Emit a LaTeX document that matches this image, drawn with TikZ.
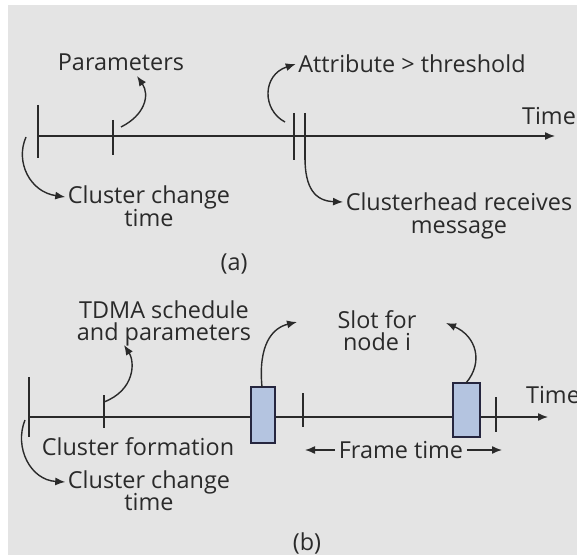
\documentclass[tikz,border=0pt]{standalone}
\usepackage{fontspec}
\setmainfont{Open Sans}
\usetikzlibrary{positioning,arrows.meta}
\definecolor{bggrey}{HTML}{E4E4E4}
\definecolor{slotblue}{HTML}{B4C4E0}
\definecolor{ink}{HTML}{2A2A2A}

\begin{document}
\begin{tikzpicture}
    [x=0.5pt, y=-0.5pt, >={Latex[length=5pt,width=4pt]}, line width=0.7pt,
     every node/.style={font=\fontsize{11.7}{12}\selectfont, inner sep=0pt, text=ink},
     nextline/.style={anchor=base},
     axis/.style={draw=ink, ->},
     tick/.style={draw=ink},
     callout/.style={draw=ink, ->},
     slot/.style={draw=ink!90!blue, fill=slotblue}]
    \useasboundingbox (0,0) rectangle (577,555);
    \fill[white] (0,0) rectangle (577,555);
    \fill[bggrey] (8,5) rectangle (577,555);

    % (a)
    \coordinate (a0) at (38,136);
    \coordinate (aend) at (555,136);
    \draw[axis] (a0) -- (aend);
    \foreach \x/\top/\bot in {38/105/158, 113/120/155, 294/113/160, 305/113/160}
      \draw[tick] (\x,\top) -- (\x,\bot);
    \node (atime) at (549,116) {Time};
    \node (apar) at (121,62) {Parameters};
    \node (aattr) at (412,64) {Attribute > threshold};
    \node (acc) at (149,197) {Cluster change};
    \node (acct) [nextline] at ([yshift=-11.5pt]acc.base) {time};
    \node (ach) at (459,202) {Clusterhead receives};
    \node (achm) [nextline] at ([yshift=-11.5pt]ach.base) {message};
    \node (alab) at (234,264) {(a)};
    \coordinate (ap) at (137,76);
    \draw[callout] (121,127) .. controls (145,115) and (150,95) .. (ap);
    \draw[callout] (285,122) .. controls (262,110) and (262,75) .. ([xshift=-1pt]aattr.west);
    \draw[callout] (26,137) .. controls (15,162) and (30,192) .. ([xshift=-1pt]acc.west);
    \draw[callout] (305,158) .. controls (305,188) and (315,201) .. ([xshift=-1pt]ach.west);

    % (b)
    \coordinate (b0) at (29,417);
    \coordinate (bend) at (548,417);
    \draw[axis] (b0) -- (bend);
    \foreach \x/\top/\bot in {29/377/437, 104/395/428, 303/393/427, 496/397/432}
      \draw[tick] (\x,\top) -- (\x,\bot);
    \draw[slot] (251,387) rectangle (275,443);
    \draw[slot] (453,383) rectangle (480,437);
    \node (btime) at (553,395) {Time};
    \node (btdma) at (164,310) {TDMA schedule};
    \node (btdmap) [nextline] at ([yshift=-11pt]btdma.base) {and parameters};
    \node (bslot) at (377,320) {Slot for};
    \node (bslotn) [nextline] at ([yshift=-11pt]bslot.base) {node i};
    \node (bform) at (138,447) {Cluster formation};
    \node (bcc) at (149,482) {Cluster change};
    \node (bcct) [nextline] at ([yshift=-11pt]bcc.base) {time};
    \node (bframe) at (401,450) {Frame time};
    \node (blab) at (307,543) {(b)};
    \coordinate (bt) at (124,345);
    \coordinate (bs1) at (297,322);
    \coordinate (bs2) at (446,323);
    \draw[callout] (25,420) .. controls (14,447) and (30,480) .. ([xshift=-1pt]bcc.west);
    \draw[callout] (104,402) .. controls (135,390) and (135,362) .. (bt);
    \draw[callout] (262,387) .. controls (258,345) and (272,328) .. (bs1);
    \draw[callout] (466,383) .. controls (484,362) and (476,336) .. (bs2);
    \draw[callout] ([xshift=-1.5pt]bframe.west) -- (305,450);
    \draw[callout] ([xshift=1.5pt]bframe.east) -- (502,450);
\end{tikzpicture}
\end{document}
